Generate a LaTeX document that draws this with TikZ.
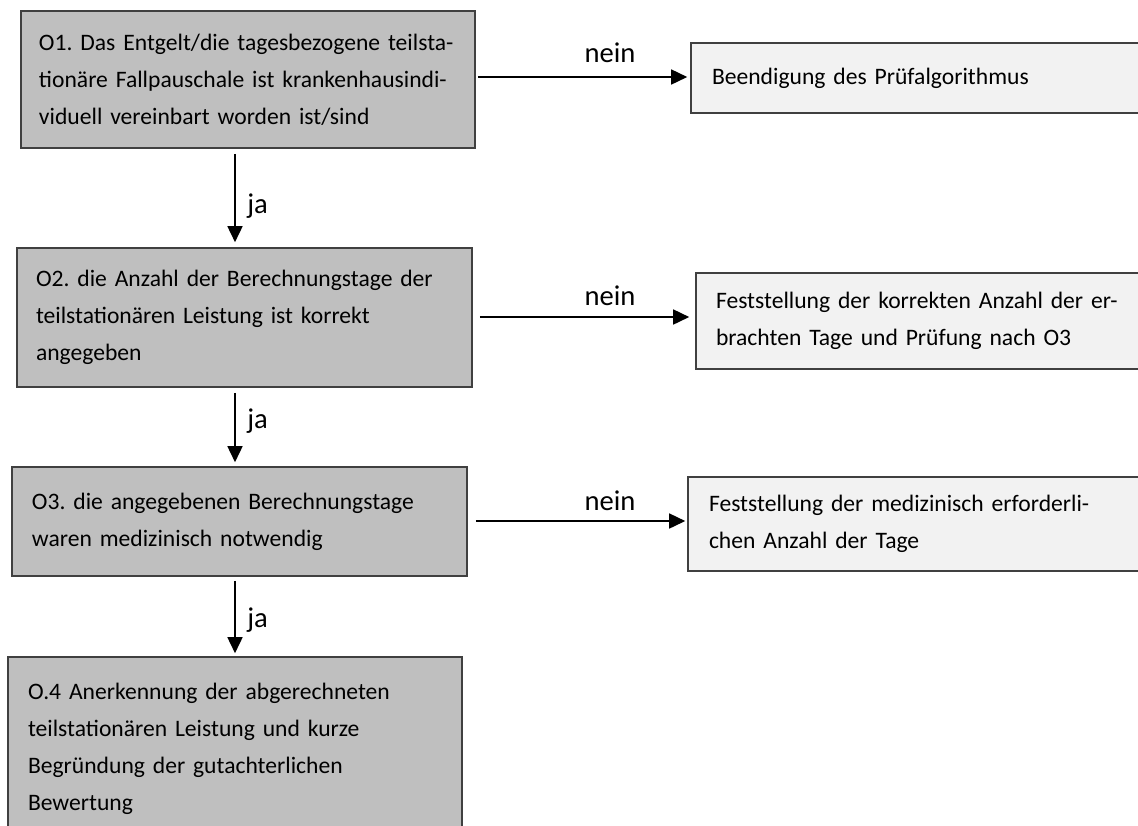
\documentclass[tikz,border=0pt]{standalone}
\usepackage{fontspec}
\setmainfont{Carlito}
\usetikzlibrary{arrows.meta,calc}
\definecolor{ofill}{HTML}{BFBFBF}
\definecolor{rfill}{HTML}{F2F2F2}
\definecolor{edgec}{HTML}{404040}
\frenchspacing
\begin{document}
\begin{tikzpicture}[x=0.5pt,y=-0.5pt,
  boxtext/.style={font=\fontsize{11.8pt}{18.5pt}\selectfont\frenchspacing},
  obox/.style={boxtext, draw=edgec, line width=0.8pt, fill=ofill, align=left, inner ysep=0pt},
  rbox/.style={boxtext, draw=edgec, line width=0.8pt, fill=rfill, align=left, inner ysep=0pt},
  arr/.style={line width=0.8pt, -{Triangle[length=8pt,width=7.5pt]}},
  lbl/.style={font=\fontsize{14.3pt}{17pt}\selectfont, inner sep=0pt}
]
\useasboundingbox (0,0) rectangle (1138,825);
\clip (0,0) rectangle (1138,825);
\fill[white] (0,0) rectangle (1138,825);

% left column
\node[obox, minimum width=227pt, minimum height=68.5pt, text width=209pt, inner xsep=9pt] (o1) at (248,79.5)
  {O1. Das Entgelt/die tagesbezogene teilsta-\\tionäre Fallpauschale ist krankenhausindi-\\viduell vereinbart worden ist/sind};
\node[obox, minimum width=227.5pt, minimum height=69.5pt, text width=208.5pt, inner xsep=9.5pt] (o2) at (244.5,317.5)
  {O2. die Anzahl der Berechnungstage der\\teilstationären Leistung ist korrekt\\angegeben};
\node[obox, minimum width=227.5pt, minimum height=54.5pt, text width=207.5pt, inner xsep=10pt] (o3) at (239.5,521.5)
  {O3. die angegebenen Berechnungstage\\waren medizinisch notwendig};
\node[obox, minimum width=227pt, minimum height=92pt, text width=207pt, inner xsep=10pt] (o4) at (235,749)
  {O.4 Anerkennung der abgerechneten\\teilstationären Leistung und kurze\\Begründung der gutachterlichen\\Bewertung};

% right column
\node[rbox, minimum width=229.5pt, minimum height=35pt, text width=208.5pt, inner xsep=10.5pt] (b) at (920.5,78)
  {Beendigung des Prüfalgorithmus};
\node[rbox, minimum width=227pt, minimum height=48pt, text width=207pt, inner xsep=10pt] (f2) at (923,321)
  {Feststellung der korrekten Anzahl der er-\\brachten Tage und Prüfung nach O3};
\node[rbox, minimum width=231pt, minimum height=47pt, text width=210pt, inner xsep=10.5pt] (f3) at (919,524)
  {Feststellung der medizinisch erforderli-\\chen Anzahl der Tage};

% helper coordinates
\coordinate (vx) at (235,0);
\coordinate (h1) at (0,77);
\coordinate (h2) at (0,317);
\coordinate (h3) at (0,521);

% ja arrows
\draw[arr] ($(o1.south -| vx)+(0,5)$) -- ($(o2.north -| vx)+(0,-5)$);
\draw[arr] ($(o2.south -| vx)+(0,5)$) -- ($(o3.north -| vx)+(0,-4)$);
\draw[arr] ($(o3.south -| vx)+(0,4)$) -- ($(o4.north -| vx)+(0,-3)$);
\node[lbl, anchor=base west] (ja1) at (247,213) {ja};
\node[lbl, anchor=base west] (ja2) at (247,428) {ja};
\node[lbl, anchor=base west] (ja3) at (247,627) {ja};

% nein arrows
\draw[arr] ($(o1.east |- h1)+(2,0)$) -- ($(b.west |- h1)+(-3,0)$);
\draw[arr] ($(o2.east |- h2)+(7,0)$) -- ($(f2.west |- h2)+(-6,0)$);
\draw[arr] ($(o3.east |- h3)+(8,0)$) -- ($(f3.west |- h3)+(-2,0)$);
\node[lbl, anchor=base] (n1) at (610,62) {nein};
\node[lbl, anchor=base] (n2) at (610,305) {nein};
\node[lbl, anchor=base] (n3) at (610,510) {nein};
\end{tikzpicture}
\end{document}
